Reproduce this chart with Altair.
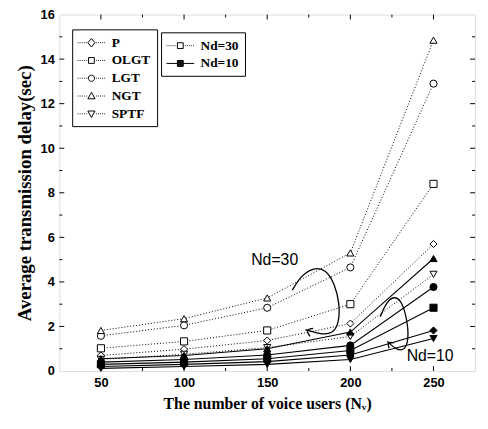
import altair as alt
import pandas as pd

# ---------------- data ----------------
users = [50, 100, 150, 200, 250]
series = ["P", "OLGT", "LGT", "NGT", "SPTF"]
nd_labels = ["Nd=30", "Nd=10"]

nd30_P = [0.70, 0.98, 1.37, 2.13, 5.70]
nd30_OLGT = [1.02, 1.33, 1.82, 3.00, 8.40]
nd30_LGT = [1.58, 2.05, 2.84, 4.65, 12.90]
nd30_NGT = [1.82, 2.35, 3.28, 5.30, 14.85]
nd30_SPTF = [0.52, 0.75, 1.05, 1.55, 4.34]

nd10_P = [0.20, 0.30, 0.42, 0.72, 1.82]
nd10_OLGT = [0.30, 0.40, 0.55, 0.92, 2.84]
nd10_LGT = [0.40, 0.52, 0.72, 1.15, 3.77]
nd10_NGT = [0.55, 0.70, 1.00, 1.75, 5.05]
nd10_SPTF = [0.12, 0.20, 0.30, 0.52, 1.46]

# annotation texts (data units)
ann_text = ["Nd=30", "Nd=10"]
ann_x = [154.5, 248.0]
ann_y = [5.0, 0.66]

# curved arrows (data units)
curve30_x = [165.1, 170.5, 178.2, 185.3, 190.7, 193.6, 193.1, 189.5, 182.4, 172.9]
curve30_y = [3.63, 4.30, 4.65, 4.57, 3.90, 3.01, 2.13, 1.68, 1.64, 1.86]
head30_x = [175.8, 172.9, 177.6]
head30_y = [1.55, 1.86, 1.91]
curve10_x = [218.0, 222.1, 226.9, 231.1, 234.0, 235.2, 232.8, 228.1, 222.1]
curve10_y = [2.44, 3.15, 3.37, 3.10, 2.35, 1.46, 0.93, 0.93, 1.33]
head10_x = [223.3, 222.1, 226.3]
head10_y = [1.02, 1.33, 1.26]

# axis tick values
x_label_values = [50, 100, 150, 200, 250]
x_tick_values = [50, 75, 100, 125, 150, 175, 200, 225, 250]
y_label_values = [0, 2, 4, 6, 8, 10, 12, 14, 16]
y_tick_values = list(range(1, 16))

# ---------------- tables ----------------
vals30 = {"P": nd30_P, "OLGT": nd30_OLGT, "LGT": nd30_LGT, "NGT": nd30_NGT, "SPTF": nd30_SPTF}
vals10 = {"P": nd10_P, "OLGT": nd10_OLGT, "LGT": nd10_LGT, "NGT": nd10_NGT, "SPTF": nd10_SPTF}
rows = []
for nd, vals in (("Nd=30", vals30), ("Nd=10", vals10)):
    for s in series:
        for u, v in zip(users, vals[s]):
            rows.append({"x": u, "y": v, "series": s, "Nd": nd})
df = pd.DataFrame(rows)

ann_df = pd.DataFrame({"x": ann_x, "y": ann_y, "t": ann_text})

crow = []
for cid, xs, ys in (("c30", curve30_x, curve30_y), ("h30", head30_x, head30_y),
                    ("c10", curve10_x, curve10_y), ("h10", head10_x, head10_y)):
    for i, (a, b) in enumerate(zip(xs, ys)):
        crow.append({"x": a, "y": b, "cid": cid, "o": i})
curve_df = pd.DataFrame(crow)

xt_df = pd.DataFrame({"v": x_tick_values})
yt_df = pd.DataFrame({"v": y_tick_values})

# ---------------- styling ----------------
W, H = 421, 361
SERIF = "Liberation Serif"
SANS = "Liberation Sans"
MAJ, MIN = 5, 3

def xsc():
    return alt.Scale(domain=[25, 275], nice=False, zero=False)

def ysc():
    return alt.Scale(domain=[0, 16], nice=False, zero=False)

shape_range = ["diamond", "square", "circle", "triangle-up", "triangle-down"]

# legend symbols: a dotted/solid line with a marker (unit = sqrt(size)/2 px)
def dotted(x0, x1):
    out = []
    x = x0
    while x < x1 - 0.05:
        out.append("M%.2f,0h0.12" % x)
        x += 0.3
    return "".join(out)

def hatch_square(h):
    out = []
    y = -h
    while y <= h + 1e-6:
        out.append("M%.2f,%.2fH%.2f" % (-h, y, h))
        y += 0.1
    return "".join(out)

line_dot = dotted(-2.0, -0.6) + dotted(0.65, 2.0)
line_solid = "M-2,0H-0.45M0.45,0H2"
m_diamond = "M0,-0.62L0.5,0L0,0.62L-0.5,0Z"
m_square = "M-0.42,-0.42H0.42V0.42H-0.42Z"
m_circle = "M0.45,0A0.45,0.45,0,1,1,-0.45,0A0.45,0.45,0,1,1,0.45,0Z"
m_tup = "M0,-0.55L0.52,0.4L-0.52,0.4Z"
m_tdown = "M0,0.55L0.52,-0.4L-0.52,-0.4Z"
series_paths = [line_dot + m for m in (m_diamond, m_square, m_circle, m_tup, m_tdown)]
nd_paths = [line_dot + m_square, line_solid + m_square + hatch_square(0.42)]

# labelled axes
x_axis_main = alt.Axis(orient="bottom", values=x_label_values, ticks=False, grid=False,
                       domain=False,
                       labelFont=SANS, labelFontSize=13, labelFontWeight="bold", labelColor="black",
                       labelPadding=6, title="The number of voice users (Nᵥ)", titleFont=SERIF,
                       titleFontSize=16, titleFontWeight="bold", titleColor="black", titlePadding=6)
y_axis_main = alt.Axis(orient="left", values=y_label_values, ticks=False, grid=False,
                       domain=False,
                       labelFont=SANS, labelFontSize=13, labelFontWeight="bold", labelColor="black",
                       labelPadding=5, title="Average transmission delay(sec)", titleFont=SERIF,
                       titleFontSize=19, titleFontWeight="bold", titleColor="black", titlePadding=6)

base = alt.Chart(df)

dotted_lines = base.transform_filter("datum.Nd == 'Nd=30'").mark_line(
    strokeDash=[1, 2], strokeWidth=1, color="black").encode(
    x=alt.X("x:Q", scale=xsc(), axis=x_axis_main),
    y=alt.Y("y:Q", scale=ysc(), axis=y_axis_main),
    detail="series:N")

solid_lines = base.transform_filter("datum.Nd == 'Nd=10'").mark_line(
    strokeWidth=1.1, color="black").encode(
    x=alt.X("x:Q", scale=xsc(), axis=None),
    y=alt.Y("y:Q", scale=ysc(), axis=None),
    detail="series:N")

points = base.mark_point(filled=True, size=52, stroke="black", strokeWidth=1, opacity=1).encode(
    x=alt.X("x:Q", scale=xsc(), axis=None),
    y=alt.Y("y:Q", scale=ysc(), axis=None),
    shape=alt.Shape("series:N", scale=alt.Scale(domain=series, range=shape_range), legend=None),
    fill=alt.Fill("Nd:N", scale=alt.Scale(domain=nd_labels, range=["white", "black"]), legend=None))

# inward tick marks on all four sides (positions through the scales)
tick_len_x = "(datum.v %% 50 === 0 ? %d : %d)" % (MAJ, MIN)
tick_len_y = "(datum.v %% 2 === 0 ? %d : %d)" % (MAJ, MIN)

ticks_bottom = alt.Chart(xt_df).transform_calculate(
    a=str(H), b="%d - %s" % (H, tick_len_x)).mark_rule(color="black", strokeWidth=1).encode(
    x=alt.X("v:Q", scale=xsc(), axis=None),
    y=alt.Y("a:Q", scale=None, axis=None), y2="b:Q")
ticks_top = alt.Chart(xt_df).transform_calculate(
    a="0", b=tick_len_x).mark_rule(color="black", strokeWidth=1).encode(
    x=alt.X("v:Q", scale=xsc(), axis=None),
    y=alt.Y("a:Q", scale=None, axis=None), y2="b:Q")
ticks_left = alt.Chart(yt_df).transform_calculate(
    a="0", b=tick_len_y).mark_rule(color="black", strokeWidth=1).encode(
    y=alt.Y("v:Q", scale=ysc(), axis=None),
    x=alt.X("a:Q", scale=None, axis=None), x2="b:Q")
ticks_right = alt.Chart(yt_df).transform_calculate(
    a=str(W), b="%d - %s" % (W, tick_len_y)).mark_rule(color="black", strokeWidth=1).encode(
    y=alt.Y("v:Q", scale=ysc(), axis=None),
    x=alt.X("a:Q", scale=None, axis=None), x2="b:Q")

leg_common = dict(title=None, orient="none", direction="vertical", padding=6, symbolOffset=6,
                  labelOffset=13, symbolSize=196, symbolStrokeWidth=1, strokeColor="black",
                  fillColor="white", labelFont=SERIF, labelFontSize=13.5, labelFontWeight="bold",
                  labelColor="black", symbolStrokeColor="black", symbolOpacity=1)

leg_series = base.transform_filter("datum.y > 1000").mark_point(
    filled=False, size=196, color="black", strokeWidth=1, opacity=1).encode(
    x=alt.X("x:Q", scale=xsc(), axis=None),
    y=alt.Y("y:Q", scale=ysc(), axis=None),
    shape=alt.Shape("series:N", scale=alt.Scale(domain=series, range=series_paths),
                    legend=alt.Legend(legendX=13, legendY=15, rowPadding=4, **leg_common)))

leg_nd = base.transform_filter("datum.y > 1000").mark_point(
    filled=False, size=196, color="black", strokeWidth=1, opacity=1).encode(
    x=alt.X("x:Q", scale=xsc(), axis=None),
    y=alt.Y("y:Q", scale=ysc(), axis=None),
    shape=alt.Shape("Nd:N", scale=alt.Scale(domain=nd_labels, range=nd_paths),
                    legend=alt.Legend(legendX=103, legendY=18, rowPadding=4, **leg_common)))

texts = alt.Chart(ann_df).mark_text(font=SANS, fontSize=16, color="black").encode(
    x=alt.X("x:Q", scale=xsc(), axis=None),
    y=alt.Y("y:Q", scale=ysc(), axis=None),
    text="t:N")

curves = alt.Chart(curve_df).mark_line(color="black", strokeWidth=1.3, interpolate="basis").encode(
    x=alt.X("x:Q", scale=xsc(), axis=None),
    y=alt.Y("y:Q", scale=ysc(), axis=None),
    detail="cid:N", order="o:Q")

chart = alt.layer(dotted_lines, solid_lines, points, curves, texts,
                  ticks_bottom, ticks_top, ticks_left, ticks_right,
                  leg_series, leg_nd).resolve_scale(
    x="independent", y="independent", shape="independent", fill="independent").properties(
    width=W, height=H,
    autosize=alt.AutoSizeParams(type="none"),
    padding={"left": 52, "top": 4, "right": 5, "bottom": 50}).configure_view(
    stroke="black", strokeWidth=1.2).configure(background="white")

chart.save("out.html", embed_options={"renderer": "svg", "actions": False})
